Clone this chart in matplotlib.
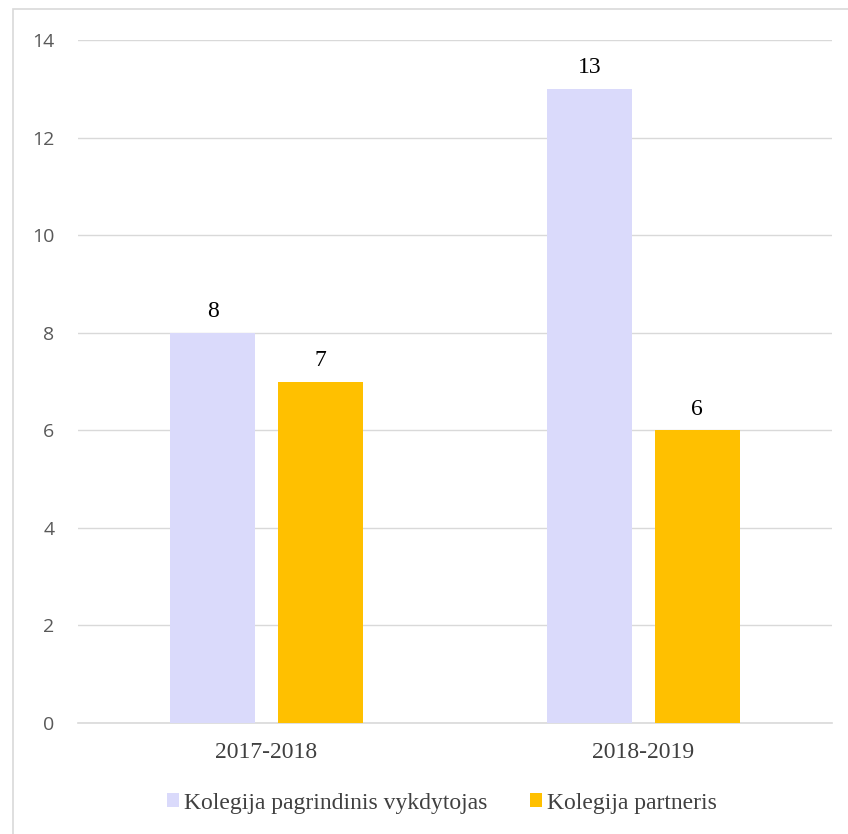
import numpy as np
import matplotlib.pyplot as plt
from matplotlib.patches import Rectangle

categories = ["2017-2018", "2018-2019"]
series_names = ["Kolegija pagrindinis vykdytojas", "Kolegija partneris"]
main_values = [8, 13]
partner_values = [7, 6]
y_ticks = [0, 2, 4, 6, 8, 10, 12, 14]

colors = ["#DADAFB", "#FFC000"]

fig = plt.figure(figsize=(8.48, 8.34), dpi=100)
ax = fig.add_axes([78/848, 1 - 723/834, 754/848, 683/834])

# outer chart border (only left/top visible in the original crop)
fig.patches.append(Rectangle((13/848, -0.05), 1.2, 1 - 9/834 + 0.05,
                             transform=fig.transFigure, fill=False,
                             edgecolor="#D9D9D9", lw=1.2))

x = np.arange(len(categories))
w = 0.225
gap = 0.06
b1 = ax.bar(x - (w + gap)/2, main_values, w, color=colors[0], label=series_names[0], zorder=3)
b2 = ax.bar(x + (w + gap)/2, partner_values, w, color=colors[1], label=series_names[1], zorder=3)

for bars in (b1, b2):
    for r in bars:
        ax.text(r.get_x() + r.get_width()/2, r.get_height() + 0.32, "%d" % r.get_height(),
                ha="center", va="baseline", fontsize=17, family="Liberation Serif", color="black")

ax.set_xlim(-0.5, 1.5)
ax.set_ylim(0, 14)
ax.set_yticks(y_ticks)
ax.set_xticks(x)
ax.set_xticklabels(categories, family="Liberation Serif", fontsize=17, color="#404040")
for lbl in ax.get_yticklabels():
    lbl.set_family("Open Sans")
    lbl.set_fontsize(14)
    lbl.set_color("#595959")

ax.grid(axis="y", color="#D9D9D9", lw=1, zorder=0)
for s in ["top", "right", "left"]:
    ax.spines[s].set_visible(False)
ax.spines["bottom"].set_color("#D9D9D9")
ax.spines["bottom"].set_linewidth(1.2)
ax.tick_params(axis="both", length=0)
ax.tick_params(axis="y", pad=17)
ax.tick_params(axis="x", pad=14)

leg = fig.legend(loc="center", bbox_to_anchor=(442/848, 1 - 803/834), ncol=2, frameon=False,
                 prop={"family": "Liberation Serif", "size": 17}, handlelength=0.51,
                 handleheight=0.51, handletextpad=0.21, columnspacing=1.8)
for t in leg.get_texts():
    t.set_color("#404040")

fig.savefig("out.png", dpi=100)
